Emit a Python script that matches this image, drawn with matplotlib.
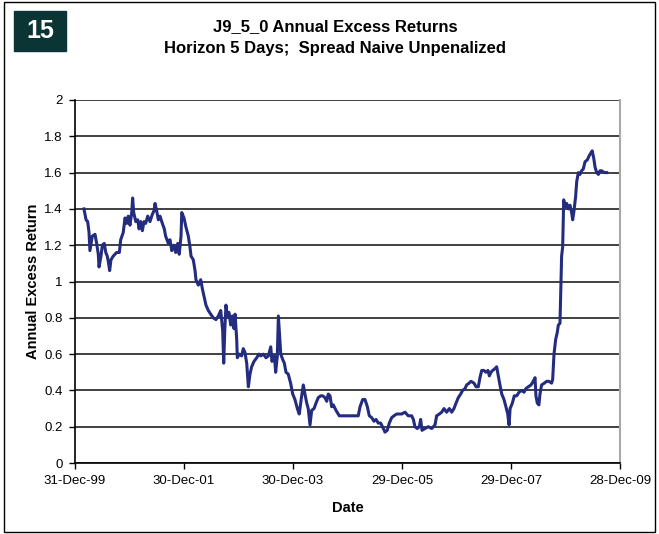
import numpy as np
import matplotlib
matplotlib.use("Agg")
import matplotlib.pyplot as plt
import matplotlib.patches as mpatches

plt.rcParams['font.family'] = ['Liberation Sans', 'DejaVu Sans']

# days after 31-Dec-1999, and annual excess return
days = [60, 74, 85, 94, 100, 116, 134, 145, 156, 161, 174, 183, 196, 206, 216, 223,
        232, 241, 256, 279, 297, 306, 323, 335, 346, 357, 368, 380, 386, 393, 407, 420,
        429, 440, 451, 462, 473, 487, 502, 518, 529, 536, 547, 558, 569, 585, 598, 607,
        625, 636, 648, 663, 674, 688, 698, 710, 715, 730, 743, 759, 770, 777, 792, 804,
        810, 826, 842, 853, 864, 877, 893, 909, 926, 944, 960, 976, 989, 996, 1003, 1011,
        1020, 1031, 1043, 1053, 1065, 1072, 1083, 1087, 1100, 1116, 1127, 1138, 1150, 1161,
        1172, 1183, 1199, 1217, 1232, 1244, 1261, 1279, 1295, 1311, 1319, 1335, 1344, 1355,
        1362, 1368, 1378, 1391, 1402, 1413, 1428, 1444, 1458, 1473, 1489, 1502, 1518, 1529,
        1540, 1552, 1562, 1574, 1585, 1601, 1614, 1629, 1645, 1659, 1674, 1686, 1696, 1708,
        1719, 1730, 1748, 1770, 1830, 1897, 1909, 1927, 1942, 1958, 1971, 1987, 2002, 2016,
        2031, 2047, 2065, 2076, 2091, 2105, 2121, 2136, 2154, 2188, 2210, 2232, 2255, 2266,
        2277, 2292, 2306, 2315, 2324, 2344, 2366, 2389, 2411, 2422, 2440, 2456, 2471, 2489,
        2507, 2523, 2538, 2552, 2567, 2583, 2596, 2612, 2623, 2639, 2652, 2672, 2686, 2701,
        2712, 2724, 2739, 2752, 2766, 2775, 2786, 2797, 2813, 2824, 2835, 2846, 2858, 2873,
        2886, 2898, 2907, 2914, 2929, 2942, 2958, 2974, 2992, 3007, 3020, 3036, 3054, 3069,
        3081, 3087, 3096, 3107, 3114, 3125, 3143, 3159, 3174, 3192, 3199, 3208, 3219, 3230,
        3237, 3248, 3253, 3259, 3266, 3273, 3282, 3293, 3304, 3315, 3326, 3333, 3342, 3353,
        3360, 3371, 3382, 3393, 3404, 3416, 3431, 3442, 3456, 3464, 3474, 3483, 3494, 3505,
        3516, 3527, 3545, 3561]
returns = [1.40, 1.34, 1.33, 1.27, 1.17, 1.25, 1.26, 1.21, 1.15, 1.08, 1.14, 1.20, 1.21, 1.16,
           1.14, 1.11, 1.06, 1.12, 1.14, 1.16, 1.16, 1.23, 1.27, 1.35, 1.32, 1.36, 1.31, 1.38,
           1.46, 1.38, 1.33, 1.34, 1.29, 1.33, 1.28, 1.33, 1.32, 1.36, 1.33, 1.37, 1.39, 1.43,
           1.39, 1.34, 1.36, 1.32, 1.29, 1.25, 1.21, 1.23, 1.17, 1.20, 1.16, 1.21, 1.15, 1.25,
           1.38, 1.35, 1.30, 1.25, 1.19, 1.14, 1.12, 1.06, 1.01, 0.98, 1.01, 0.96, 0.92, 0.87,
           0.84, 0.82, 0.80, 0.79, 0.81, 0.84, 0.73, 0.55, 0.73, 0.87, 0.81, 0.83, 0.76, 0.81,
           0.74, 0.82, 0.68, 0.58, 0.60, 0.59, 0.63, 0.61, 0.55, 0.42, 0.49, 0.53, 0.56, 0.58,
           0.60, 0.59, 0.60, 0.58, 0.59, 0.64, 0.56, 0.59, 0.50, 0.59, 0.81, 0.73, 0.60, 0.57,
           0.55, 0.50, 0.49, 0.44, 0.38, 0.35, 0.30, 0.27, 0.37, 0.43, 0.38, 0.33, 0.30, 0.21,
           0.29, 0.30, 0.33, 0.36, 0.37, 0.37, 0.36, 0.34, 0.38, 0.37, 0.31, 0.32, 0.29, 0.26,
           0.26, 0.26, 0.31, 0.35, 0.35, 0.31, 0.26, 0.25, 0.23, 0.24, 0.22, 0.22, 0.19, 0.17,
           0.18, 0.22, 0.25, 0.26, 0.27, 0.27, 0.28, 0.26, 0.26, 0.24, 0.20, 0.19, 0.20, 0.24,
           0.18, 0.19, 0.20, 0.19, 0.21, 0.26, 0.27, 0.28, 0.30, 0.28, 0.30, 0.28, 0.30, 0.33,
           0.36, 0.38, 0.40, 0.41, 0.43, 0.44, 0.45, 0.44, 0.42, 0.42, 0.47, 0.51, 0.51, 0.50,
           0.51, 0.48, 0.50, 0.51, 0.52, 0.53, 0.48, 0.43, 0.38, 0.35, 0.31, 0.27, 0.21, 0.30,
           0.33, 0.37, 0.37, 0.39, 0.40, 0.39, 0.41, 0.42, 0.43, 0.45, 0.47, 0.37, 0.33, 0.32,
           0.38, 0.43, 0.44, 0.45, 0.45, 0.44, 0.46, 0.60, 0.68, 0.72, 0.76, 0.77, 0.95, 1.14,
           1.19, 1.45, 1.41, 1.43, 1.40, 1.42, 1.38, 1.34, 1.39, 1.47, 1.55, 1.60, 1.59, 1.61,
           1.62, 1.66, 1.67, 1.69, 1.71, 1.72, 1.68, 1.63, 1.60, 1.59, 1.61, 1.61, 1.60, 1.60]

tick_days = [0, 730, 1460, 2190, 2920, 3650]
tick_labels = ['31-Dec-99', '30-Dec-01', '30-Dec-03', '29-Dec-05', '29-Dec-07', '28-Dec-09']
y_ticks = [0, 0.2, 0.4, 0.6, 0.8, 1, 1.2, 1.4, 1.6, 1.8, 2]
y_labels = ['0', '0.2', '0.4', '0.6', '0.8', '1', '1.2', '1.4', '1.6', '1.8', '2']

W, H = 659, 534
fig = plt.figure(figsize=(W / 100, H / 100), dpi=100)
ax = fig.add_axes([75 / W, 1 - 463 / H, 545 / W, 363 / H])

ax.plot(days, returns, color='#242c80', lw=2.2, solid_joinstyle='round')

ax.set_xlim(0, 3650)
ax.set_ylim(0, 2)
ax.set_xticks(tick_days)
ax.set_xticklabels(tick_labels, fontsize=9.5)
ax.set_yticks(y_ticks)
ax.set_yticklabels(y_labels, fontsize=9.5)
ax.tick_params(axis='both', direction='out', length=4, width=1, color='black', pad=5)
ax.grid(axis='y', color='#202020', lw=1.2)
ax.set_axisbelow(True)
ax.spines['top'].set_visible(False)
ax.spines['right'].set_color('#a8a8a8')
ax.spines['right'].set_linewidth(1.5)
ax.spines['left'].set_linewidth(1.2)
ax.spines['bottom'].set_linewidth(1.2)

ax.set_xlabel('Date', fontsize=10.5, fontweight='bold', labelpad=10)
ax.set_ylabel('Annual Excess Return', fontsize=10.5, fontweight='bold', labelpad=3)

fig.text(335 / W, 1 - 27 / H, 'J9_5_0 Annual Excess Returns', ha='center', va='center',
         fontsize=12, fontweight='bold')
fig.text(335 / W, 1 - 49 / H, 'Horizon 5 Days;  Spread Naive Unpenalized', ha='center',
         va='center', fontsize=12, fontweight='bold')

# badge and outer frame
fig.patches.append(mpatches.Rectangle((14 / W, 1 - 51 / H), 52 / W, 40 / H,
                                      transform=fig.transFigure, color='#0b3434'))
fig.text(40 / W, 1 - 31 / H, '15', ha='center', va='center', color='white',
         fontsize=18, fontweight='bold')
fig.patches.append(mpatches.Rectangle((4 / W, 2 / H), 651 / W, 530 / H,
                                      transform=fig.transFigure, fill=False,
                                      edgecolor='black', lw=1))

fig.savefig('out.png', dpi=100)
